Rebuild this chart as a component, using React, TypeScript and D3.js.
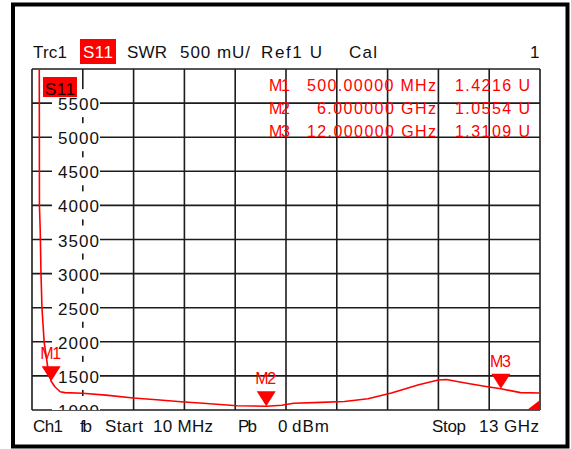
import React from 'react';
import * as d3 from 'd3';

// ---- data ----
const freqGHz = [0.01, 0.19, 0.2, 0.22, 0.24, 0.265, 0.32, 0.42, 0.5, 0.6, 0.73, 0.85, 1.3, 1.9, 2.6, 3.2, 3.9, 4.3, 5.25, 6.0, 6.4, 6.7, 7.4, 8.0, 8.6, 9.2, 9.9, 10.4, 10.6, 11.2, 11.7, 12.0, 12.5, 13.0];
const swrMU = [20000, 9000, 4000, 3640, 3000, 2500, 2000, 1600, 1421.6, 1337, 1268, 1255, 1245, 1218, 1176, 1150, 1117, 1103, 1062, 1055.4, 1070, 1098, 1112, 1125, 1165, 1250, 1370, 1440, 1448, 1385, 1337, 1310.9, 1255, 1250];
const yTicks = [1000, 1500, 2000, 2500, 3000, 3500, 4000, 4500, 5000, 5500, 6000];
const yTickLabels = ['1000', '1500', '2000', '2500', '3000', '3500', '4000', '4500', '5000', '5500'];
const markerNames = ['M1', 'M2', 'M3'];
const markerFreqGHz = [0.5, 6, 12];
const markerSwrMU = [1421.6, 1055.4, 1310.9];
const markerFreqText = ['500.00000 MHz', '6.000000 GHz', '12.000000 GHz'];
const markerValueText = ['1.4216 U', '1.0554 U', '1.3109 U'];
const headerTexts = ['Trc1', 'SWR', '500 mU/', 'Ref1 U', 'Cal', '1'];
const footerTexts = ['Ch1', 'fb', 'Start', '10 MHz', 'Pb', '0', 'dBm', 'Stop', '13 GHz'];
const traceName = 'S11';
const xDomain = [0.01, 13];
const yDomain = [1000, 6000];

// ---- layout ----
const W = 571, H = 449;
const PL = 32, PR = 540, PT = 69, PB = 410;
const FONT = '"Liberation Sans", Arial, sans-serif';
const RED = '#ff0000';
const GRID = '#1c1c1c';

const headerPos: [number, number][] = [[33, 67], [127, 167], [180, 250], [261, 322], [349, 377], [530, 536]];
const footerPos: [number, number][] = [[33, 63], [80, 92], [105, 143], [153, 213], [238, 257], [278, 285], [292, 329], [432, 466], [479, 539]];
const rowBase = [91, 114, 137];
const freqStart = [307, 317, 307];

function Txt({ x0, x1, y, text, fill = '#111', size = 17 }: any) {
  return (
    <text x={x0} y={y} fill={fill} fontSize={size} fontFamily={FONT}
      textLength={text.length > 1 ? x1 - x0 : undefined} lengthAdjust="spacing">
      {text}
    </text>
  );
}

export default function App() {
  const x = d3.scaleLinear().domain(xDomain).range([PL, PR]);
  const y = d3.scaleLinear().domain(yDomain).range([PB, PT]);
  const xTicks = d3.range(11).map((i) => xDomain[0] + (i * (xDomain[1] - xDomain[0])) / 10);
  const line = d3.line<number>().x((_, i) => x(freqGHz[i])).y((d) => y(d));
  const path = line(swrMU) || '';

  return (
    <svg width={W} height={H} style={{ position: 'absolute', left: 0, top: 0, background: '#fff' }}>
      <defs>
        <clipPath id="plotclip">
          <rect x={PL} y={PT} width={PR - PL} height={PB - PT} />
        </clipPath>
      </defs>
      <rect x={0} y={0} width={W} height={H} fill="#fff" />
      {/* outer frame */}
      <rect x={13} y={4.5} width={554.5} height={442} fill="none" stroke="#000" strokeWidth={4} />

      {/* header */}
      {headerTexts.map((t, i) => (
        <Txt key={'h' + i} x0={headerPos[i][0]} x1={headerPos[i][1]} y={58} text={t} />
      ))}
      <rect x={80} y={39} width={36} height={25} fill={RED} />
      <Txt x0={83} x1={113} y={58} text={traceName} fill="#fff" />

      {/* grid */}
      {xTicks.map((t, i) => (
        <line key={'vx' + i} x1={x(t)} x2={x(t)} y1={PT} y2={PB} stroke={GRID} strokeWidth={1.6} />
      ))}
      {yTicks.map((t, i) => (
        <line key={'hy' + i} x1={PL} x2={PR} y1={y(t)} y2={y(t)} stroke={GRID} strokeWidth={1.6} />
      ))}

      {/* y labels */}
      <g clipPath="url(#plotclip)">
        {yTickLabels.map((t, i) => {
          const yy = y(yTicks[i]);
          return (
            <g key={'yl' + i}>
              <rect x={52} y={yy - 14} width={48} height={28} fill="#fff" />
              <Txt x0={58} x1={99} y={yy + 7} text={t} />
            </g>
          );
        })}
      </g>

      {/* S11 in-plot tag */}
      <rect x={43} y={77} width={34} height={20} fill={RED} />
      <Txt x0={45} x1={75} y={95} text={traceName} fill="#200" />

      {/* trace */}
      <g clipPath="url(#plotclip)">
        <path d={path} fill="none" stroke={RED} strokeWidth={1.6} strokeLinejoin="round" />
        <path d={`M${PR},${y(1000) - 10} L${PR},${y(1000)} L${PR - 13},${y(1000)} Z`} fill={RED} />
      </g>

      {/* markers */}
      {markerNames.map((m, i) => {
        const mx = x(markerFreqGHz[i]);
        const my = y(markerSwrMU[i]);
        return (
          <g key={'mk' + i}>
            <path d={`M${mx - 9.5},${my - 15} L${mx + 9.5},${my - 15} L${mx},${my} Z`} fill={RED} />
            <Txt x0={mx - 11} x1={mx + 10} y={my - 22} text={m} fill={RED} size={16} />
          </g>
        );
      })}

      {/* marker table */}
      {markerNames.map((m, i) => (
        <g key={'mt' + i}>
          <Txt x0={269} x1={290} y={rowBase[i]} text={m} fill={RED} size={16} />
          <Txt x0={freqStart[i]} x1={436} y={rowBase[i]} text={markerFreqText[i]} fill={RED} size={16} />
          <Txt x0={455} x1={530} y={rowBase[i]} text={markerValueText[i]} fill={RED} size={16} />
        </g>
      ))}

      {/* footer */}
      {footerTexts.map((t, i) => (
        <Txt key={'f' + i} x0={footerPos[i][0]} x1={footerPos[i][1]} y={432} text={t} />
      ))}
    </svg>
  );
}
